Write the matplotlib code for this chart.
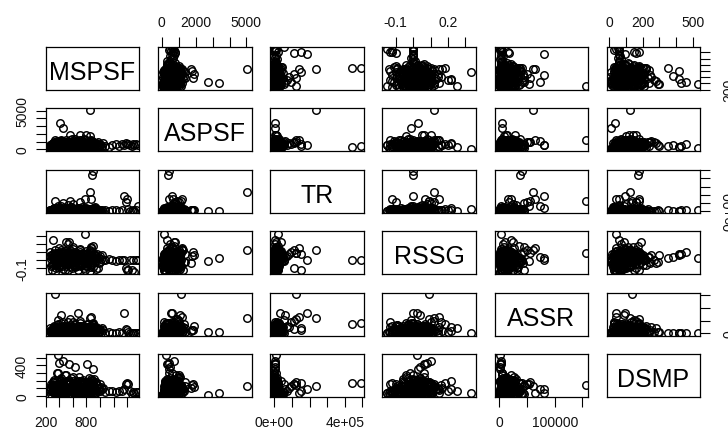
import matplotlib.pyplot as plt
from matplotlib.ticker import FixedLocator, FixedFormatter

plt.rcParams['font.family'] = ['Liberation Sans', 'DejaVu Sans']

names = ["MSPSF", "ASPSF", "TR", "RSSG", "ASSR", "DSMP"]

#main body of the data, then the high MSPSF group, high DSMP group,
#mid TR, mid ASSR, RSSG tails, single outliers and a denser core
mspsf = [240, 255, 270, 280, 290, 300, 310, 320, 330, 340,
         350, 360, 370, 380, 390, 400, 410, 420, 430, 440,
         450, 460, 470, 480, 490, 500, 510, 520, 530, 540,
         550, 560, 570, 580, 590, 600, 610, 620, 630, 640,
         650, 660, 670, 680, 690, 700, 710, 720, 730, 740,
         750, 760, 770, 780, 790, 800, 810, 820, 830, 840,
         850, 860, 870, 880, 890, 900, 910, 920, 930, 940,
         950, 960, 980, 1000, 1020, 265, 285, 305, 325, 345,
         365, 385, 405, 425, 445, 465, 485, 505, 525, 545,
         565, 585, 605, 625, 645, 665, 685, 705, 725, 745,
         765, 785, 805, 825, 845, 865, 885, 905, 925, 945,
         965, 985, 1005, 1030, 1050, 420, 600, 350, 780, 520,
         1080, 1130, 1180, 1230, 1280, 1320, 1350, 1380, 1400, 1420,
         1450, 1480, 1530, 1560,
         380, 400, 540, 630, 810, 890, 380, 450,
         520, 600, 450, 700, 560, 780, 860,
         430, 670, 380, 890, 500, 600,
         540, 520, 310, 863, 1500, 1470,
         780, 850, 880, 900, 450, 410, 800, 850, 760, 560, 700, 330,
         300, 315, 335, 355, 375, 395, 415, 435, 455, 475,
         495, 515, 535, 555, 575, 595, 615, 635, 655, 675,
         695, 715, 735, 755, 775, 795, 815, 835, 855, 875,
         895, 280, 330, 380, 430, 480, 530, 580, 630, 680,
         730, 780, 830, 880, 310, 360, 410, 460, 510, 560,
         610, 660, 710, 760, 810, 860, 910, 295, 345, 395,
         445, 495, 545, 595, 645, 695, 745, 795, 845, 895,
         320, 420, 520, 620, 720, 820, 370, 470, 570, 670]

aspsf = [120, 300, 80, 450, 200, 620, 350, 150, 520, 700,
         260, 880, 410, 90, 760, 330, 580, 950, 240, 640,
         1050, 470, 180, 820, 380, 1150, 550, 130, 900, 420,
         1250, 700, 280, 980, 600, 1100, 350, 780, 1300, 500,
         200, 860, 1000, 450, 720, 1200, 320, 650, 1080, 540,
         170, 920, 400, 760, 1150, 300, 680, 980, 480, 850,
         220, 720, 1050, 380, 620, 900, 260, 740, 500, 880,
         350, 600, 420, 700, 300, 560, 750, 120, 900, 430,
         1100, 250, 680, 1200, 380, 800, 150, 1000, 600, 320,
         870, 1350, 460, 730, 1020, 280, 960, 520, 1150, 390,
         820, 1250, 560, 200, 940, 640, 1100, 340, 780, 470,
         990, 280, 620, 450, 800, 50, 70, 40, 60, 30,
         420, 300, 550, 650, 480, 700, 600, 800, 650, 750,
         550, 700, 650, 600,
         230, 400, 300, 500, 350, 450, 600, 700,
         600, 800, 700, 1000, 900, 400, 1200,
         1100, 520, 950, 700, 800, 600,
         700, 500, 300, 600, 500, 400,
         100, 5050, 350, 400, 2750, 3400, 1800, 1700, 1350, 1850, 1900, 1150,
         350, 620, 180, 480, 820, 260, 700, 410, 950, 150,
         560, 320, 780, 440, 1000, 220, 640, 380, 860, 520,
         120, 740, 300, 900, 460, 680, 240, 560, 800, 340,
         620, 520, 260, 840, 600, 380, 720, 180, 480, 900,
         360, 640, 140, 560, 780, 400, 880, 240, 660, 520,
         300, 740, 440, 200, 600, 420, 280, 680, 160, 540,
         820, 300, 600, 940, 360, 500, 720, 240, 440, 560,
         460, 1100, 760, 620, 580, 350, 980, 640, 840, 1000]

tr = [3000, 8000, 1500, 12000, 500, 20000, 4000, 30000, 2000, 15000,
      6000, 25000, 1000, 9000, 40000, 3500, 11000, 700, 18000, 5000,
      22000, 2500, 13000, 800, 35000, 7000, 16000, 1200, 28000, 4500,
      10000, 2000, 45000, 6500, 19000, 900, 14000, 3000, 24000, 8500,
      600, 32000, 5500, 17000, 1800, 12000, 27000, 4000, 9500, 50000,
      2800, 15000, 700, 21000, 6000, 38000, 3300, 11000, 1500, 26000,
      8000, 500, 17000, 4500, 30000, 2200, 13000, 7000, 42000, 1000,
      9000, 19000, 3500, 12000, 600, 14000, 2500, 22000, 900, 10000,
      35000, 4000, 16000, 1800, 28000, 6500, 12500, 300, 20000, 3800,
      48000, 7500, 1400, 23000, 5000, 14500, 800, 33000, 8000, 2000,
      18000, 600, 26000, 4200, 11500, 1600, 21000, 6800, 36000, 2600,
      9800, 15500, 1100, 7200, 3000, 500, 300, 200, 400, 100,
      8000, 2000, 15000, 5000, 1000, 12000, 186000, 110000, 150000, 20000,
      3000, 7000, 4000, 55000,
      10000, 5000, 2000, 3000, 1500, 4000, 8000, 6000,
      70000, 85000, 95000, 110000, 125000, 150000, 140000,
      60000, 30000, 56000, 20000, 40000, 15000,
      8000, 5000, 3000, 12000, 2000, 1000,
      20000, 235000, 440000, 490000, 1500, 2500, 9000, 14000, 4000, 6000, 11000, 125000,
      2000, 6000, 1000, 9000, 3000, 14000, 500, 7000, 4000, 18000,
      1500, 11000, 2500, 5000, 16000, 800, 8000, 3500, 12000, 600,
      20000, 2000, 10000, 4500, 700, 13000, 3000, 9000, 1200, 15000,
      5500, 400, 7500, 2200, 11000, 1800, 6000, 17000, 900, 4000,
      10000, 2600, 19000, 5000, 1400, 8500, 300, 12500, 3800, 7000,
      15500, 1000, 6500, 9500, 2000, 13000, 4200, 800, 11500, 3000,
      5000, 16500, 1600, 7800, 2400, 10500, 600, 14000, 3600, 8200,
      1900, 5200, 9000, 2700, 12000, 4800, 1100, 6800, 20000, 3200]

rssg = [-0.02, 0.05, -0.08, 0.01, -0.12, 0.08, -0.05, 0.03, -0.15, 0.12,
        0.0, -0.03, 0.06, -0.09, 0.02, 0.15, -0.06, 0.04, -0.01, 0.09,
        -0.11, 0.01, 0.07, -0.04, 0.11, -0.07, 0.03, -0.13, 0.05, 0.0,
        0.13, -0.02, 0.08, -0.1, 0.02, 0.06, -0.05, 0.1, -0.03, 0.04,
        -0.08, 0.0, 0.07, -0.12, 0.03, 0.14, -0.04, 0.01, -0.06, 0.05,
        0.09, -0.02, -0.1, 0.04, 0.0, 0.11, -0.07, 0.02, -0.03, 0.07,
        -0.14, 0.05, -0.05, 0.1, 0.0, -0.09, 0.03, 0.06, -0.01, -0.11,
        0.08, 0.02, -0.04, 0.05, 0.01, 0.1, -0.06, 0.04, 0.0, -0.1,
        0.07, 0.02, -0.03, 0.12, -0.07, 0.05, -0.12, 0.0, 0.09, -0.05,
        0.03, -0.02, 0.14, -0.09, 0.06, 0.01, -0.04, 0.1, -0.08, 0.04,
        0.0, -0.13, 0.07, -0.01, 0.11, -0.06, 0.02, 0.08, -0.03, 0.05,
        -0.1, 0.03, -0.02, 0.06, 0.0, 0.0, 0.02, -0.05, 0.01, -0.03,
        0.0, 0.01, 0.0, -0.01, 0.0, 0.0, 0.0, -0.1, -0.12, -0.13,
        0.0, 0.0, 0.0, 0.0,
        0.02, 0.08, 0.06, 0.04, 0.07, 0.03, -0.02, 0.1,
        0.05, 0.08, 0.1, 0.12, 0.09, 0.07, 0.15,
        0.04, 0.02, -0.01, 0.18, 0.22, 0.16,
        0.22, 0.2, 0.25, 0.165, -0.15, -0.12,
        0.33, 0.12, 0.0, 0.0, -0.01, 0.03, 0.05, -0.04, 0.08, 0.1, 0.06, 0.09,
        0.01, -0.04, 0.06, 0.0, 0.09, -0.07, 0.03, 0.05, -0.02, 0.08,
        -0.05, 0.02, 0.07, -0.08, 0.04, 0.0, 0.1, -0.03, 0.06, 0.01,
        -0.06, 0.05, 0.02, -0.01, 0.08, -0.04, 0.03, 0.07, -0.09, 0.04,
        0.0, 0.06, -0.02, 0.09, 0.01, -0.05, 0.05, 0.03, -0.07, 0.08,
        0.02, -0.03, 0.06, 0.0, 0.04, -0.06, 0.1, 0.01, -0.01, 0.07,
        0.03, -0.08, 0.05, 0.02, -0.04, 0.09, 0.0, 0.06, -0.02, 0.04,
        0.08, -0.05, 0.01, 0.05, -0.03, 0.07, 0.02, -0.07, 0.03, 0.0,
        0.06, -0.01, 0.04, 0.09, -0.06, 0.02, 0.05, -0.02, 0.07, 0.03]

assr = [2000, 9000, 500, 15000, 3000, 22000, 6000, 28000, 1000, 12000,
        18000, 35000, 4000, 8000, 14000, 26000, 2500, 7000, 40000, 10000,
        16000, 30000, 5000, 20000, 3500, 24000, 11000, 45000, 1500, 17000,
        8500, 33000, 6500, 13000, 2200, 27000, 19000, 9500, 38000, 4500,
        15500, 12500, 29000, 7500, 21000, 3000, 42000, 11500, 16500, 5500,
        25000, 1800, 31000, 9000, 14500, 2800, 23000, 36000, 7000, 17500,
        4000, 28000, 12000, 20000, 6000, 32000, 10500, 3800, 26000, 15000,
        8000, 22000, 5000, 18000, 2000, 20000, 11000, 3000, 26000, 7000,
        16000, 37000, 1200, 13500, 23000, 8500, 31000, 5000, 19000, 10000,
        27000, 4000, 15000, 34000, 6500, 21000, 12000, 2500, 28000, 17000,
        9000, 24000, 39000, 3500, 14000, 30000, 7500, 19500, 11000, 25000,
        4800, 16000, 8800, 21500, 13000, 500, 800, 300, 600, 200,
        2000, 4000, 1000, 3000, 6000, 2500, 80000, 18000, 15000, 5000,
        2000, 1500, 3000, 2000,
        500, 3000, 1500, 800, 2000, 1000, 4000, 2500,
        30000, 25000, 45000, 50000, 55000, 20000, 65000,
        74000, 80000, 53000, 36000, 25000, 44000,
        10000, 6000, 20000, 8000, 1000, 2000,
        2000, 60000, 37000, 40000, 4500, 4000, 14000, 9000, 22000, 12000, 28000, 157000,
        4000, 12000, 1500, 20000, 7000, 16000, 2500, 9000, 23000, 5500,
        14000, 3000, 18000, 8000, 11000, 26000, 1000, 15000, 6000, 21000,
        9500, 2000, 17000, 4500, 13000, 7500, 24000, 3500, 10000, 19000,
        1200, 8500, 22000, 5000, 15500, 2800, 12500, 6500, 18500, 9800,
        3200, 25000, 7200, 14500, 600, 11500, 20500, 4200, 16500, 8800,
        2400, 13500, 5800, 21500, 10500, 1800, 17500, 6800, 24500, 3800,
        12200, 900, 19500, 7800, 15000, 4600, 22500, 10200, 2900, 16800,
        6200, 13800, 3400, 20200, 8400, 11800, 5300, 17200, 2100, 9300]

dsmp = [60, 110, 30, 150, 70, 90, 180, 40, 45, 130,
        75, 55, 300, 20, 35, 80, 200, 240, 25, 170,
        80, 120, 15, 280, 45, 100, 160, 30, 65, 210,
        95, 95, 25, 85, 115, 250, 50, 175, 70, 135,
        120, 35, 105, 60, 200, 85, 45, 165, 120, 30,
        185, 95, 90, 60, 145, 40, 130, 75, 240, 55,
        40, 190, 80, 160, 35, 125, 95, 175, 30, 75,
        70, 140, 100, 60, 120, 75, 130, 50, 210, 70,
        45, 95, 190, 120, 40, 145, 55, 270, 60, 155,
        20, 125, 100, 50, 110, 185, 245, 35, 90, 170,
        115, 65, 30, 150, 80, 220, 55, 135, 40, 180,
        100, 65, 150, 85, 110, 10, 5, 15, 8, 12,
        55, 60, 70, 50, 65, 60, 95, 160, 175, 150,
        60, 55, 50, 58,
        533, 430, 420, 380, 418, 350, 295, 460,
        60, 100, 130, 160, 180, 60, 40,
        85, 42, 150, 170, 190, 140,
        90, 70, 60, 110, 40, 30,
        42, 125, 170, 175, 12, 33, 140, 100, 180, 160, 120, 138,
        120, 80, 190, 140, 60, 45, 210, 170, 100, 90,
        65, 150, 180, 40, 230, 110, 70, 130, 200, 160,
        55, 190, 140, 95, 75, 50, 180, 120, 35, 150,
        200, 105, 85, 70, 170, 60, 190, 125, 45, 80,
        160, 95, 130, 215, 180, 60, 55, 150, 110, 120,
        90, 45, 170, 135, 75, 70, 220, 140, 100, 185,
        80, 55, 160, 195, 90, 100, 210, 40, 165, 130,
        145, 110, 175, 60, 50, 155, 190, 105, 65, 140]

columns = [mspsf, aspsf, tr, rssg, assr, dsmp]

#axis ranges, ticks and the labels R kept
limits = [(198, 1580), (-235, 5300), (-24000, 508000),
          (-0.177, 0.36), (-9000, 160500), (-16, 546)]
ticks = [[200, 400, 600, 800, 1000, 1200, 1400],
         [0, 1000, 2000, 3000, 4000, 5000],
         [0, 100000, 200000, 300000, 400000, 500000],
         [-0.1, 0.0, 0.1, 0.2, 0.3],
         [0, 50000, 100000, 150000],
         [0, 100, 200, 300, 400, 500]]
xtick_labels = [["200", "", "", "800", "", "", ""],
                ["0", "", "2000", "", "", "5000"],
                ["0e+00", "", "", "", "4e+05", ""],
                ["-0.1", "", "", "0.2", ""],
                ["0", "", "100000", ""],
                ["0", "", "200", "", "", "500"]]
ytick_labels = [["200", "", "", "", "", "", ""],
                ["0", "", "", "", "", "5000"],
                ["0e+00", "", "", "", "", ""],
                ["-0.1", "", "", "", ""],
                ["0", "", "", ""],
                ["0", "", "", "", "400", ""]]

W, H = 728, 435
fig = plt.figure(figsize=(W / 100, H / 100), dpi=100)

#panel grid in pixels
left0, top0 = 45.7, 47.7
pw, ph = 93.6, 43.0
dx, dy = 112.2, 61.5

n = len(names)
for i in range(n):
    for j in range(n):
        x0 = left0 + j * dx
        y0 = top0 + i * dy
        ax = fig.add_axes([x0 / W, 1 - (y0 + ph) / H, pw / W, ph / H])
        for s in ax.spines.values():
            s.set_linewidth(0.9)
        ax.set_xlim(limits[j])
        ax.set_ylim(limits[i])
        if i == j:
            ax.text(0.5, 0.26, names[i], ha='center', va='baseline',
                    fontsize=18, transform=ax.transAxes)
        else:
            ax.plot(columns[j], columns[i], 'o', mfc='none', mec='black',
                    ms=5.4, mew=1.05, linestyle='none')

        ax.xaxis.set_major_locator(FixedLocator(ticks[j]))
        ax.xaxis.set_major_formatter(FixedFormatter(xtick_labels[j]))
        ax.yaxis.set_major_locator(FixedLocator(ticks[i]))
        ax.yaxis.set_major_formatter(FixedFormatter(ytick_labels[i]))
        ax.tick_params(bottom=False, top=False, left=False, right=False,
                       labelbottom=False, labeltop=False,
                       labelleft=False, labelright=False,
                       direction='out', length=7, width=0.8,
                       labelsize=10, labelcolor='#111111')

        #R pairs: axes alternate around the outside
        if i == 0 and j % 2 == 1:
            ax.tick_params(axis='x', top=True, labeltop=True, pad=5.5)
        if i == n - 1 and j % 2 == 0:
            ax.tick_params(axis='x', bottom=True, labelbottom=True, pad=5.5)
        if j == 0 and i % 2 == 1:
            ax.tick_params(axis='y', left=True, labelleft=True, pad=5)
            for t in ax.get_yticklabels():
                t.set_rotation(90)
                t.set_va('center')
        if j == n - 1 and i % 2 == 0:
            #labels on the right run off the page, as in the original
            ax.tick_params(axis='y', right=True, labelright=True, pad=9)
            for tk in ax.yaxis.get_major_ticks():
                tk.label2.set_rotation(90)
                tk.label2.set_va('center')

plt.savefig("out.png", dpi=100)
